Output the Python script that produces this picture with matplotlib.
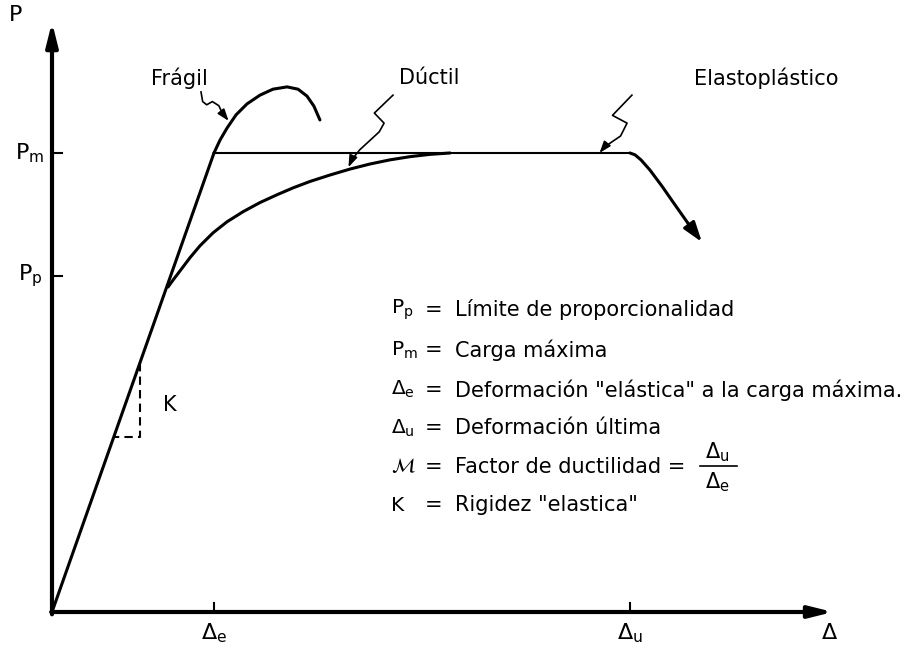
import numpy as np
import matplotlib.pyplot as plt

plt.rcParams['font.family'] = 'DejaVu Sans'
plt.rcParams['mathtext.default'] = 'regular'

# valores normalizados: delta_e = 1, P_m = 1
delta_e = 1.0
delta_u = 3.57
p_m = 1.0
p_p = 0.732

elastic_x = [0.0, 1.0]
elastic_y = [0.0, 1.0]

fragil_x = [1.0, 1.037, 1.080, 1.136, 1.204, 1.284, 1.364, 1.451, 1.519, 1.574, 1.617, 1.654]
fragil_y = [1.0, 1.028, 1.054, 1.083, 1.107, 1.126, 1.139, 1.144, 1.139, 1.124, 1.102, 1.072]

ductil_x = [0.716, 0.747, 0.790, 0.852, 0.914, 0.994, 1.080, 1.179, 1.284, 1.389,
            1.488, 1.593, 1.716, 1.840, 1.963, 2.086, 2.210, 2.333, 2.457]
ductil_y = [0.708, 0.723, 0.743, 0.772, 0.798, 0.826, 0.850, 0.872, 0.892, 0.909,
            0.924, 0.938, 0.952, 0.965, 0.976, 0.985, 0.992, 0.997, 1.0]

elasto_x = [1.0, 3.568, 3.599, 3.636, 3.691, 3.765, 3.846, 3.926, 4.012]
elasto_y = [1.0, 1.0, 0.996, 0.985, 0.963, 0.928, 0.887, 0.847, 0.806]

# flechas de rotulos (lineas onduladas)
lead_fragil_x = [0.92, 0.93, 0.955, 0.99, 1.03, 1.05, 1.09]
lead_fragil_y = [1.133, 1.112, 1.105, 1.112, 1.103, 1.088, 1.07]
lead_ductil_x = [2.105, 1.99, 2.05, 2.02, 1.90, 1.85, 1.83]
lead_ductil_y = [1.126, 1.087, 1.065, 1.046, 1.007, 0.985, 0.969]
lead_elasto_x = [3.58, 3.46, 3.55, 3.51, 3.41, 3.38]
lead_elasto_y = [1.126, 1.082, 1.065, 1.037, 1.013, 1.0]

leyenda_sim = [r'$P_p$', r'$P_m$', r'$\Delta_e$', r'$\Delta_u$', r'$\mathcal{M}$', 'K']
leyenda_txt = ['Límite de proporcionalidad', 'Carga máxima',
               'Deformación "elástica" a la carga máxima.', 'Deformación última',
               'Factor de ductilidad =', 'Rigidez "elastica"']
leyenda_y = [0.658, 0.571, 0.484, 0.401, 0.316, 0.233]

fig = plt.figure(figsize=(9.23, 6.49), dpi=100)
ax = fig.add_axes([0, 0, 1, 1])
ax.set_xlim(-0.321, 5.377)
ax.set_ylim(-0.0806, 1.3333)
ax.axis('off')

# ejes
ax.annotate('', xy=(0, 1.285), xytext=(0, -0.005),
            arrowprops=dict(arrowstyle='-|>,head_length=1.4,head_width=0.35', color='k', lw=3, shrinkA=0, shrinkB=0))
ax.annotate('', xy=(4.821, 0), xytext=(-0.005, 0),
            arrowprops=dict(arrowstyle='-|>,head_length=1.4,head_width=0.35', color='k', lw=3, shrinkA=0, shrinkB=0))

for yv in [p_m, p_p]:
    ax.plot([0, 0.062], [yv, yv], color='k', lw=1.5)
for xv in [delta_e, delta_u]:
    ax.plot([xv, xv], [0, 0.02], color='k', lw=1.5)

# curvas
ax.plot(elastic_x, elastic_y, color='k', lw=2.2, solid_capstyle='round')
ax.plot(fragil_x, fragil_y, color='k', lw=2.2, solid_capstyle='round', solid_joinstyle='round')
ax.plot(ductil_x, ductil_y, color='k', lw=2.2, solid_capstyle='round', solid_joinstyle='round')
ax.plot(elasto_x[:2], elasto_y[:2], color='k', lw=1.5)
ax.plot(elasto_x[1:-1], elasto_y[1:-1], color='k', lw=2.2, solid_capstyle='round', solid_joinstyle='round')
ax.annotate('', xy=(elasto_x[-1], elasto_y[-1]), xytext=(elasto_x[-2], elasto_y[-2]),
            arrowprops=dict(arrowstyle='-|>,head_length=1.2,head_width=0.4', color='k', lw=2.2, shrinkA=0, shrinkB=0))

# rigidez K
ax.plot([0.543, 0.543, 0.381], [0.543, 0.381, 0.381], color='k', lw=1.5, ls=(0, (4, 2.5)))
ax.text(0.728, 0.451, 'K', fontsize=15, ha='center', va='center')

# rotulos
for lx, ly in [(lead_fragil_x, lead_fragil_y), (lead_ductil_x, lead_ductil_y), (lead_elasto_x, lead_elasto_y)]:
    ax.plot(lx[:-1], ly[:-1], color='k', lw=1.2, solid_joinstyle='round')
    ax.annotate('', xy=(lx[-1], ly[-1]), xytext=(lx[-2], ly[-2]),
                arrowprops=dict(arrowstyle='-|>,head_length=0.7,head_width=0.25', color='k', lw=1.2, shrinkA=0, shrinkB=0))

ax.text(0.784, 1.163, 'Frágil', fontsize=15, ha='center', va='center')
ax.text(2.327, 1.163, 'Dúctil', fontsize=15, ha='center', va='center')
ax.text(4.407, 1.163, 'Elastoplástico', fontsize=15, ha='center', va='center')

# etiquetas de ejes
ax.text(-0.228, 1.30, 'P', fontsize=16, ha='center', va='center')
ax.text(-0.136, p_m, r'$P_m$', fontsize=16, ha='center', va='center')
ax.text(-0.136, p_p, r'$P_p$', fontsize=16, ha='center', va='center')
ax.text(delta_e, -0.046, r'$\Delta_e$', fontsize=16, ha='center', va='center')
ax.text(delta_u, -0.046, r'$\Delta_u$', fontsize=16, ha='center', va='center')
ax.text(4.80, -0.046, r'$\Delta$', fontsize=16, ha='center', va='center')

# leyenda
for s, t, yv in zip(leyenda_sim, leyenda_txt, leyenda_y):
    ax.text(2.09, yv, s, fontsize=14.5, ha='left', va='center')
    ax.text(2.355, yv, '=', fontsize=15, ha='center', va='center')
    ax.text(2.488, yv, t, fontsize=15, ha='left', va='center')

ax.text(4.105, 0.349, r'$\Delta_u$', fontsize=15, ha='center', va='center')
ax.plot([4.0, 4.228], [0.318, 0.318], color='k', lw=1.2)
ax.text(4.105, 0.283, r'$\Delta_e$', fontsize=15, ha='center', va='center')

fig.savefig('out.png', dpi=100)
